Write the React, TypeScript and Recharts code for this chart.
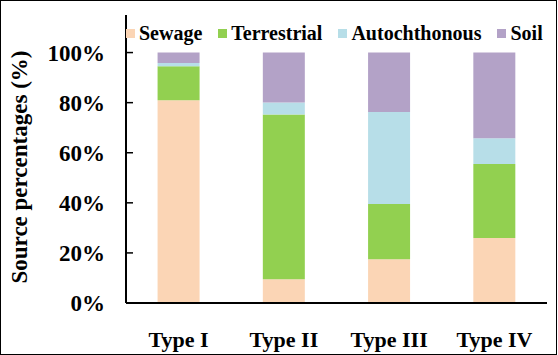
import { Bar, BarChart, Legend, XAxis, YAxis } from "recharts"

const categories = ["Type I", "Type II", "Type III", "Type IV"]
const sewage = [81, 9.5, 17.5, 26]
const terrestrial = [13.5, 65.8, 22, 29.5]
const autochthonous = [1.3, 4.8, 36.8, 10.3]
const soil = [4.2, 19.9, 23.7, 34.2]
const yTicks = [0, 20, 40, 60, 80, 100]

const series = [
  { key: "sewage", name: "Sewage", color: "#FBD5B5" },
  { key: "terrestrial", name: "Terrestrial", color: "#92D050" },
  { key: "autochthonous", name: "Autochthonous", color: "#B7DEE8" },
  { key: "soil", name: "Soil", color: "#B3A2C7" },
]

const data = categories.map((type, i) => ({
  type,
  sewage: sewage[i],
  terrestrial: terrestrial[i],
  autochthonous: autochthonous[i],
  soil: soil[i],
}))

const serif = "'Liberation Serif', 'Times New Roman', serif"

// keep the stacking order (recharts sorts legend items by name otherwise)
function LegendContent() {
  return (
    <div style={{ display: "flex", alignItems: "center", fontFamily: serif, fontWeight: "bold", fontSize: 20, lineHeight: "20px", color: "#000" }}>
      {series.map((s) => (
        <div key={s.key} style={{ display: "flex", alignItems: "center", marginRight: 16 }}>
          <span style={{ width: 9, height: 9, background: s.color, marginRight: 4, display: "inline-block" }} />
          <span style={{ whiteSpace: "nowrap" }}>{s.name}</span>
        </div>
      ))}
    </div>
  )
}

export default function App() {
  const border = { stroke: "#000", strokeWidth: 2 }
  return (
    <div style={{ position: "absolute", left: 0, top: 0, width: 558, height: 355, background: "#fff" }}>
      <BarChart width={558} height={355} data={data} barCategoryGap="30%" margin={{ top: 15, right: 11, bottom: 0, left: 0 }}>
        <XAxis xAxisId="grid" type="number" domain={[0, 4]} ticks={[1, 2, 3]} allowDataOverflow height={0} tick={() => <g />} tickSize={-6} tickLine={{ stroke: "#000", strokeWidth: 1.5 }} axisLine={false} />
        <XAxis
          xAxisId="cat"
          dataKey="type"
          height={52}
          tickLine={false}
          tickSize={0}
          tickMargin={28}
          axisLine={border}
          tick={{ fill: "#000", fontFamily: serif, fontWeight: "bold", fontSize: 22 }}
        />
        <XAxis xAxisId="top" orientation="top" type="number" domain={[0, 1]} height={0} tick={false} tickLine={false} axisLine={border} />
        <YAxis
          yAxisId="left"
          width={126}
          domain={[0, 115]}
          ticks={yTicks}
          allowDataOverflow
          tickFormatter={(v) => `${v}%`}
          tickSize={-7}
          tickMargin={28}
          tickLine={{ stroke: "#000", strokeWidth: 1.5 }}
          axisLine={border}
          tick={{ fill: "#000", fontFamily: serif, fontWeight: "bold", fontSize: 23 }}
          label={{
            value: "Source percentages (%)",
            content: () => (
              <text x={27} y={167} transform="rotate(-90, 27, 167)" textAnchor="middle" fontFamily={serif} fontWeight="bold" fontSize={23} fill="#000">
                Source percentages (%)
              </text>
            ),
          }}
        />
        <YAxis yAxisId="right" orientation="right" width={0} domain={[0, 115]} tick={false} tickLine={false} axisLine={border} />
        <Legend
          layout="horizontal"
          verticalAlign="middle"
          align="center"
          content={<LegendContent />}
          wrapperStyle={{ position: "absolute", top: 23, left: 126, width: "auto" }}
        />
        {series.map((s) => (
          <Bar key={s.key} dataKey={s.key} name={s.name} stackId="a" fill={s.color} xAxisId="cat" yAxisId="left" isAnimationActive={false} />
        ))}
      </BarChart>
      <div style={{ position: "absolute", left: 0, top: 0, width: 557, height: 355, boxSizing: "border-box", border: "1px solid #000", pointerEvents: "none" }} />
    </div>
  )
}
